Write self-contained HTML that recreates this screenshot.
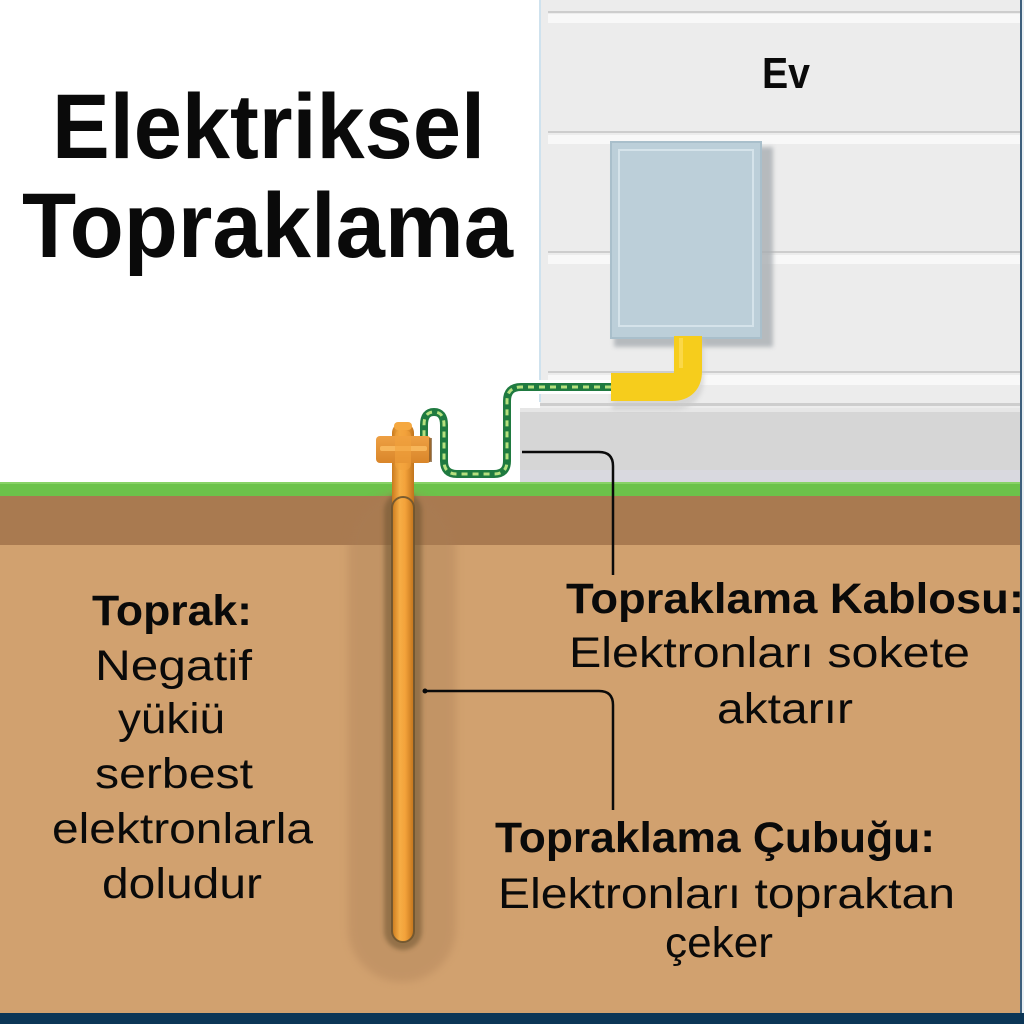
<!DOCTYPE html>
<html><head><meta charset="utf-8"><style>
html,body{margin:0;padding:0;background:#fff;}
svg{display:block;}
text{font-family:"Liberation Sans",Arial,sans-serif;fill:#0a0a0a;}
.b{font-weight:bold;}
</style></head><body>
<svg width="1024" height="1024" viewBox="0 0 1024 1024" xmlns="http://www.w3.org/2000/svg">
<defs>
<linearGradient id="rod" x1="0" x2="1" y1="0" y2="0">
<stop offset="0" stop-color="#c97a1e"/><stop offset="0.35" stop-color="#f6ad45"/><stop offset="0.6" stop-color="#f3a23a"/><stop offset="1" stop-color="#c0731c"/>
</linearGradient>
<linearGradient id="clamp" x1="0" x2="0" y1="0" y2="1">
<stop offset="0" stop-color="#eea043"/><stop offset="1" stop-color="#d9862a"/>
</linearGradient>
<filter id="blur" x="-30%" y="-10%" width="160%" height="120%"><feGaussianBlur stdDeviation="4"/></filter>
<filter id="blur2" x="-30%" y="-30%" width="160%" height="160%"><feGaussianBlur stdDeviation="2"/></filter>
</defs>
<rect x="0" y="0" width="1024" height="1024" fill="#ffffff"/>

<!-- house siding -->
<rect x="540" y="0" width="481" height="410" fill="#ececec"/>
<g fill="#cdcdcd">
<rect x="548" y="11" width="472" height="2"/>
<rect x="548" y="131" width="472" height="2"/>
<rect x="548" y="251" width="472" height="2"/>
<rect x="548" y="371" width="472" height="2"/>
<rect x="540" y="403" width="480" height="3"/>
</g>
<g fill="#f8f8f8">
<rect x="548" y="14" width="472" height="9"/>
<rect x="548" y="135" width="472" height="9"/>
<rect x="548" y="255" width="472" height="9"/>
<rect x="548" y="375" width="472" height="10"/>
</g>
<rect x="539" y="0" width="2" height="402" fill="#cfe2ee"/>
<!-- foundation -->
<rect x="520" y="408" width="501" height="76" fill="#d6d6d6"/>
<rect x="520" y="408" width="501" height="4" fill="#e6e6e6"/>
<rect x="520" y="470" width="501" height="12" fill="#d9d9df"/>

<!-- meter box -->
<rect x="614" y="147" width="159" height="200" fill="#a9aeb2" opacity="0.8" filter="url(#blur2)"/>
<rect x="611" y="142" width="150" height="196" fill="#bccfd9" stroke="#a9bfcb" stroke-width="2"/>
<rect x="619" y="150" width="134" height="176" fill="none" stroke="#d5e3ea" stroke-width="2"/>

<!-- yellow pipe -->
<path d="M690,340 L690,378 Q690,396 672,396 L612,396" fill="none" stroke="#c9c9c9" stroke-width="28" opacity="0.6" filter="url(#blur2)"/>
<path d="M688,336 L688,371 Q688,387 672,387 L611,387" fill="none" stroke="#f6cd1c" stroke-width="28"/>
<path d="M681,338 L681,368" stroke="#ffe066" stroke-width="4" opacity="0.6"/>

<!-- ground -->
<rect x="0" y="482" width="1021" height="15" fill="#6cc24a"/>
<rect x="0" y="482" width="1021" height="2" fill="#88d266"/>
<rect x="0" y="496" width="1021" height="50" fill="#a97a50"/>
<rect x="0" y="545" width="1021" height="468" fill="#d1a16f"/>
<rect x="0" y="1013" width="1024" height="11" fill="#0c3656"/>
<rect x="1020" y="0" width="2" height="1013" fill="#3d5f7c"/>
<rect x="1022" y="0" width="2" height="1013" fill="#e8eef2"/>

<!-- rod halo -->
<rect x="348" y="492" width="108" height="490" rx="54" fill="#a97d55" opacity="0.35" filter="url(#blur)"/>
<rect x="384" y="492" width="38" height="458" rx="19" fill="#6e5532" opacity="0.55" filter="url(#blur2)"/>

<!-- cable -->
<path d="M611,387 L521,387 Q507,387 507,401 L507,461 Q507,474 494,474 L457,474 Q444,474 444,461 L444,425 Q444,412 434,412 Q424,412 424,425 L424,442" fill="none" stroke="#ffffff" stroke-width="14"/>
<path d="M611,387 L521,387 Q507,387 507,401 L507,461 Q507,474 494,474 L457,474 Q444,474 444,461 L444,425 Q444,412 434,412 Q424,412 424,425 L424,442" fill="none" stroke="#1f7a40" stroke-width="8"/>
<path d="M611,387 L521,387 Q507,387 507,401 L507,461 Q507,474 494,474 L457,474 Q444,474 444,461 L444,425 Q444,412 434,412 Q424,412 424,425 L424,442" fill="none" stroke="#b5e07e" stroke-width="3" stroke-dasharray="6 5"/>

<!-- rod -->
<rect x="392" y="422" width="22" height="520" rx="11" fill="url(#rod)"/>
<rect x="392" y="497" width="22" height="445" rx="11" fill="url(#rod)" stroke="#6e5530" stroke-width="2" opacity="0.9"/>
<rect x="394" y="422" width="18" height="8" rx="4" fill="#f5a840"/>
<!-- clamp -->
<rect x="376" y="436" width="55" height="27" rx="4" fill="url(#clamp)"/>
<rect x="429" y="438" width="3" height="24" fill="#7a5428" opacity="0.7"/>
<rect x="380" y="446" width="47" height="5" rx="2" fill="#f7b65a"/>
<rect x="395" y="430" width="16" height="40" rx="6" fill="#f2a13c" opacity="0.6"/>

<!-- leader lines -->
<path d="M522,452 L599,452 Q613,452 613,466 L613,575" fill="none" stroke="#0a0a0a" stroke-width="2.5"/>
<path d="M425,691 L599,691 Q613,691 613,705 L613,810" fill="none" stroke="#0a0a0a" stroke-width="2.5"/>
<circle cx="425" cy="691" r="2.5" fill="#0a0a0a"/>

<!-- text -->
<text class="b" x="52" y="158" font-size="92" textLength="433" lengthAdjust="spacingAndGlyphs">Elektriksel</text>
<text class="b" x="22" y="257" font-size="92" textLength="491" lengthAdjust="spacingAndGlyphs">Topraklama</text>
<text class="b" x="762" y="88" font-size="44" textLength="48" lengthAdjust="spacingAndGlyphs">Ev</text>

<text class="b" x="92" y="625" font-size="43" textLength="160" lengthAdjust="spacingAndGlyphs">Toprak:</text>
<text x="95" y="680" font-size="43" textLength="157" lengthAdjust="spacingAndGlyphs">Negatif</text>
<text x="118" y="733" font-size="43" textLength="107" lengthAdjust="spacingAndGlyphs">yükiü</text>
<text x="95" y="788" font-size="43" textLength="158" lengthAdjust="spacingAndGlyphs">serbest</text>
<text x="52" y="843" font-size="43" textLength="261" lengthAdjust="spacingAndGlyphs">elektronlarla</text>
<text x="102" y="898" font-size="43" textLength="160" lengthAdjust="spacingAndGlyphs">doludur</text>

<text class="b" x="566" y="613" font-size="43" textLength="458" lengthAdjust="spacingAndGlyphs">Topraklama Kablosu:</text>
<text x="569" y="667" font-size="43" textLength="401" lengthAdjust="spacingAndGlyphs">Elektronları sokete</text>
<text x="717" y="723" font-size="43" textLength="136" lengthAdjust="spacingAndGlyphs">aktarır</text>

<text class="b" x="495" y="852" font-size="43" textLength="440" lengthAdjust="spacingAndGlyphs">Topraklama Çubuğu:</text>
<text x="498" y="908" font-size="43" textLength="457" lengthAdjust="spacingAndGlyphs">Elektronları topraktan</text>
<text x="665" y="957" font-size="43" textLength="108" lengthAdjust="spacingAndGlyphs">çeker</text>
</svg>
</body></html>
